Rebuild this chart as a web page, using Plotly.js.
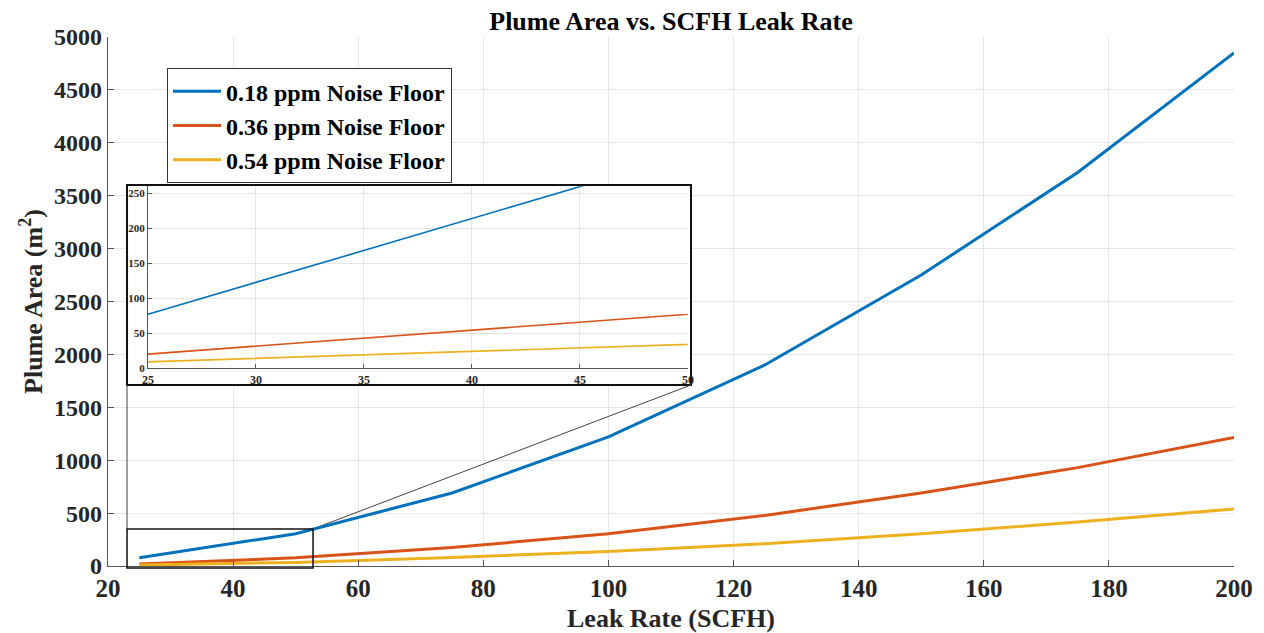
<!DOCTYPE html>
<html>
<head>
<meta charset="utf-8">
<script src="https://cdn.plot.ly/plotly-3.0.1.min.js"></script>
<style>
  html, body { margin: 0; padding: 0; background: #fff; }
  #chart { width: 1264px; height: 633px; }
</style>
</head>
<body>
<div id="chart"></div>
<script>
// Leak rates (SCFH) and plume areas (m^2) for three sensor noise floors
const leakRate = [25, 50, 75, 100, 125, 150, 175, 200];
const area018 = [77, 305, 690, 1220, 1900, 2750, 3720, 4850];
const area036 = [20, 77, 175, 305, 478, 690, 930, 1215];
const area054 = [9, 34, 80, 138, 210, 305, 415, 540];

const seriesNames = ['0.18 ppm Noise Floor', '0.36 ppm Noise Floor', '0.54 ppm Noise Floor'];
const seriesColors = ['#0072BD', '#D95319', '#EDB120'];
const seriesValues = [area018, area036, area054];

const mainXTicks = [20, 40, 60, 80, 100, 120, 140, 160, 180, 200];
const mainYTicks = [0, 500, 1000, 1500, 2000, 2500, 3000, 3500, 4000, 4500, 5000];
const insetXTicks = [25, 30, 35, 40, 45, 50];
const insetYTicks = [0, 50, 100, 150, 200, 250];

const serif = 'Liberation Serif, Times New Roman, serif';
const axisGray = '#555555';
const gridGray = '#e6e6e6';
const textColor = '#262626';

const traces = [];
// main curves
seriesValues.forEach((vals, i) => {
  traces.push({
    x: leakRate, y: vals, type: 'scatter', mode: 'lines',
    name: seriesNames[i],
    line: { color: seriesColors[i], width: 3 },
    xaxis: 'x', yaxis: 'y'
  });
});
// magnified view of the low leak-rate region
seriesValues.forEach((vals, i) => {
  traces.push({
    x: leakRate, y: vals, type: 'scatter', mode: 'lines',
    name: seriesNames[i], showlegend: false,
    line: { color: seriesColors[i], width: 1.6 },
    xaxis: 'x2', yaxis: 'y2'
  });
});

const layout = {
  width: 1264, height: 633,
  margin: { l: 108, r: 30, t: 37, b: 67 },
  paper_bgcolor: '#ffffff',
  plot_bgcolor: '#ffffff',
  font: { family: serif, size: 24, color: textColor, weight: 'bold' },
  title: {
    text: 'Plume Area vs. SCFH Leak Rate',
    font: { family: serif, size: 26, color: '#000', weight: 'bold' },
    x: 0.5, xref: 'paper', xanchor: 'center',
    y: 1 - 21 / 633, yref: 'container', yanchor: 'middle'
  },
  xaxis: {
    domain: [0, 1], range: [20, 200], tickvals: mainXTicks,
    showgrid: true, gridcolor: gridGray, gridwidth: 1,
    showline: true, linecolor: axisGray, linewidth: 1.2,
    ticks: 'inside', ticklen: 6, tickcolor: axisGray,
    zeroline: false, automargin: false,
    tickfont: { family: serif, size: 25, color: textColor, weight: 'bold' },
    title: { text: 'Leak Rate (SCFH)', standoff: 8,
             font: { family: serif, size: 26, color: textColor, weight: 'bold' } }
  },
  yaxis: {
    domain: [0, 1], range: [0, 5000], tickvals: mainYTicks,
    showgrid: true, gridcolor: gridGray, gridwidth: 1,
    showline: true, linecolor: axisGray, linewidth: 1.2,
    ticks: 'inside', ticklen: 6, tickcolor: axisGray,
    zeroline: false, automargin: false,
    tickfont: { family: serif, size: 24, color: textColor, weight: 'bold' },
    title: { text: 'Plume Area (m<sup>2</sup>)', standoff: 4,
             font: { family: serif, size: 26, color: textColor, weight: 'bold' } }
  },
  xaxis2: {
    domain: [0.0355, 0.515], anchor: 'y2', range: [25, 50], tickvals: insetXTicks,
    showgrid: true, gridcolor: gridGray, gridwidth: 1,
    showline: true, linecolor: axisGray, linewidth: 1,
    ticks: 'inside', ticklen: 4, tickcolor: axisGray,
    zeroline: false, automargin: false,
    tickfont: { family: serif, size: 12, color: textColor, weight: 'bold' }
  },
  yaxis2: {
    domain: [0.374, 0.718], anchor: 'x2', range: [0, 260], tickvals: insetYTicks,
    showgrid: true, gridcolor: gridGray, gridwidth: 1,
    showline: true, linecolor: axisGray, linewidth: 1,
    ticks: 'inside', ticklen: 4, tickcolor: axisGray,
    zeroline: false, automargin: false,
    tickfont: { family: serif, size: 11, color: textColor, weight: 'bold' }
  },
  legend: {
    x: 0.0524, y: 0.941, xanchor: 'left', yanchor: 'top',
    bgcolor: '#ffffff', bordercolor: '#333333', borderwidth: 1,
    font: { family: serif, size: 24, color: '#000', weight: 'bold' },
    tracegroupgap: 0, itemwidth: 48
  },
  shapes: [
    // white frame holding the magnified view
    { type: 'rect', xref: 'x', yref: 'y', x0: 23.04, x1: 113.2, y0: 1711, y1: 3601,
      layer: 'between', fillcolor: '#ffffff', line: { color: '#111111', width: 2 } },
    // region of the main axes that is magnified
    { type: 'rect', xref: 'paper', yref: 'paper', x0: 0.0169, x1: 0.1821, y0: -0.0038, y1: 0.0699,
      layer: 'above', fillcolor: 'rgba(0,0,0,0)', line: { color: '#111111', width: 1.5 } },
    // connector lines
    { type: 'line', xref: 'x', yref: 'y', x0: 23.04, y0: 350, x1: 23.04, y1: 1711,
      layer: 'between', line: { color: '#444444', width: 1 } },
    { type: 'line', xref: 'x', yref: 'y', x0: 52.77, y0: 350, x1: 113.2, y1: 1711,
      layer: 'between', line: { color: '#444444', width: 1 } }
  ],
  showlegend: true
};

Plotly.newPlot('chart', traces, layout, { displayModeBar: false, staticPlot: true });
</script>
</body>
</html>
